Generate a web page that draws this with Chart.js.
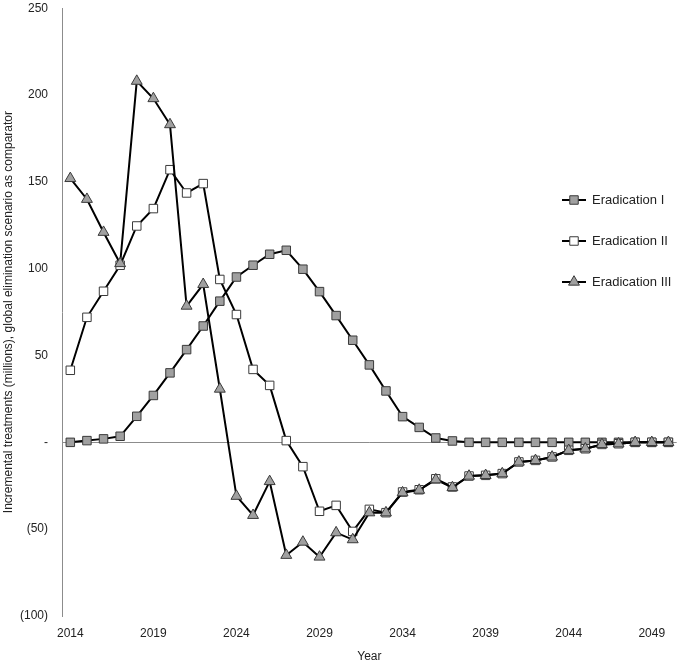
<!DOCTYPE html>
<html>
<head>
<meta charset="utf-8">
<script src="https://cdn.jsdelivr.net/npm/chart.js@4.4.1/dist/chart.umd.min.js"></script>
<style>
  body { margin: 0; background: #fff; }
  canvas { display: block; }
</style>
</head>
<body>
<canvas id="chart" width="684" height="668"></canvas>
<script>
const years = [2014, 2015, 2016, 2017, 2018, 2019, 2020, 2021, 2022, 2023,
  2024, 2025, 2026, 2027, 2028, 2029, 2030, 2031, 2032, 2033,
  2034, 2035, 2036, 2037, 2038, 2039, 2040, 2041, 2042, 2043,
  2044, 2045, 2046, 2047, 2048, 2049, 2050];

const eradicationI = [0, 1, 2, 3.5, 15, 27, 40, 53.4, 67, 81.3,
  95.2, 102, 108.3, 110.6, 99.7, 86.8, 73, 58.8, 44.6, 29.6,
  14.8, 8.6, 2.5, 0.8, 0, 0, 0, 0, 0, 0,
  0, 0, 0, 0, 0, 0, 0];

const eradicationII = [41.5, 72, 87, 102, 124.6, 134.6, 157, 143.6, 149, 93.8,
  73.6, 42, 32.8, 1, -14, -39.7, -36.3, -51.3, -38.6, -40.5,
  -28.6, -27.3, -21, -25.7, -19.4, -19, -18, -11.3, -10.4, -8.4,
  -4.6, -3.7, -1.2, -0.8, 0, 0, 0];

const eradicationIII = [152, 140, 121, 103, 208, 198, 183, 78.5, 91, 30.7,
  -31, -42, -22.5, -65, -57.4, -66, -52, -56, -40.5, -40.5,
  -29, -27.5, -21.5, -26, -19.4, -19, -18, -11.3, -10.4, -8.4,
  -4.6, -3.7, -1.2, -0.8, 0, 0, 0];

const seriesNames = ["Eradication I", "Eradication II", "Eradication III"];

Chart.defaults.font.family = "'Liberation Sans', Arial, sans-serif";
Chart.defaults.font.size = 12;
Chart.defaults.color = "#222";

const styles = [
  {pointStyle: 'rect', radius: 6, fill: '#a0a0a0'},
  {pointStyle: 'rect', radius: 6, fill: '#ffffff'},
  {pointStyle: 'triangle', radius: 6.3, fill: '#a0a0a0'}
];

function makeDataset(i, data) {
  return {
    label: seriesNames[i],
    data: data,
    borderColor: '#000',
    borderWidth: 2,
    pointStyle: styles[i].pointStyle,
    pointRadius: styles[i].radius,
    pointHoverRadius: styles[i].radius,
    pointBackgroundColor: styles[i].fill,
    pointBorderColor: '#3a3a3a',
    pointBorderWidth: 1,
    tension: 0,
    order: 3 - i
  };
}

// legend drawn inside the plot area, Excel style
const sideLegend = {
  id: 'sideLegend',
  afterDraw(chart) {
    const ctx = chart.ctx;
    const ys = [200, 241, 282];
    ctx.save();
    seriesNames.forEach((name, i) => {
      const y = ys[i];
      ctx.strokeStyle = '#000';
      ctx.lineWidth = 2;
      ctx.beginPath();
      ctx.moveTo(562, y);
      ctx.lineTo(586, y);
      ctx.stroke();
      ctx.fillStyle = styles[i].fill;
      ctx.strokeStyle = '#3a3a3a';
      ctx.lineWidth = 1;
      Chart.helpers.drawPoint(ctx, {
        pointStyle: styles[i].pointStyle,
        radius: styles[i].radius,
        rotation: 0,
        borderWidth: 1
      }, 574, y);
      ctx.fillStyle = '#222';
      ctx.font = "13px 'Liberation Sans', Arial, sans-serif";
      ctx.textBaseline = 'middle';
      ctx.textAlign = 'left';
      ctx.fillText(name, 592, y);
    });
    ctx.restore();
  }
};

new Chart(document.getElementById('chart'), {
  type: 'line',
  data: {
    labels: years,
    datasets: [
      makeDataset(0, eradicationI),
      makeDataset(1, eradicationII),
      makeDataset(2, eradicationIII)
    ]
  },
  options: {
    responsive: false,
    animation: false,
    layout: {padding: {top: 0, right: 3, left: 0, bottom: 0}},
    plugins: {
      legend: {display: false},
      tooltip: {enabled: false}
    },
    scales: {
      x: {
        type: 'category',
        offset: true,
        grid: {display: false, drawTicks: false},
        border: {display: false},
        ticks: {
          autoSkip: false,
          maxRotation: 0,
          padding: 10,
          callback: (val, i) => (i % 5 === 0 ? String(years[i]) : '')
        },
        title: {display: true, text: 'Year', padding: {top: 4, bottom: 4}},
        afterFit: (scale) => { scale.height = 52; }
      },
      y: {
        min: -100,
        max: 250,
        ticks: {
          stepSize: 50,
          padding: 1,
          callback: (v) => (v === 0 ? '-' : v < 0 ? '(' + (-v) + ')' : String(v))
        },
        grid: {
          drawTicks: true,
          tickLength: 13,
          tickColor: 'rgba(0,0,0,0)',
          color: (c) => (c.tick && c.tick.value === 0 ? '#8c8c8c' : 'rgba(0,0,0,0)')
        },
        border: {display: true, color: '#8c8c8c', width: 1},
        title: {
          display: true,
          text: 'Incremental treatments (millions), global elimination scenario as comparator',
          padding: {top: 1, bottom: 2}
        },
        afterFit: (scale) => { scale.width = 62; }
      }
    }
  },
  plugins: [sideLegend]
});
</script>
</body>
</html>
